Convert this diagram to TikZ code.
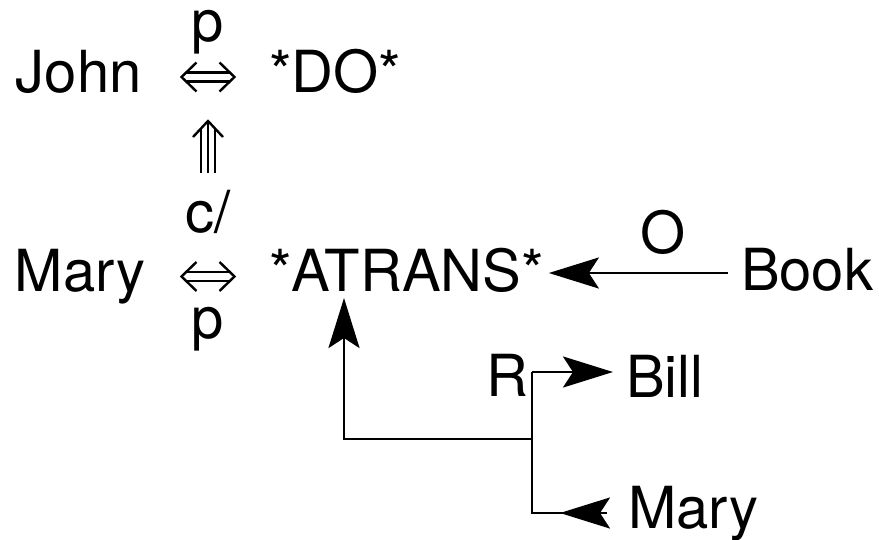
\documentclass[tikz,border=0pt]{standalone}
\usepackage{fontspec}
\setmainfont{TeX Gyre Heros}
\usetikzlibrary{arrows.meta,calc}
\tikzset{
  lbl/.style={inner sep=0pt, outer sep=0pt, anchor=base west, font=\fontsize{58}{62}\selectfont},
  ln/.style={line width=2.9pt, line join=miter},
  arr/.style={ln, -{Stealth[length=50pt,width=31pt,inset=10pt]}},
  dblline/.style={line width=2.4pt, line join=miter},
  dblarr/.pic={
    \draw[dblline] (-22,-4.5) -- (22,-4.5) (-22,4.5) -- (22,4.5);
    \draw[dblline] (-11.5,-14.5) -- (-26.5,0) -- (-11.5,14.5);
    \draw[dblline] (11.5,-14.5) -- (26.5,0) -- (11.5,14.5);
  },
}
\begin{document}
\begin{tikzpicture}[x=1pt,y=-1pt]
\useasboundingbox (0,0) rectangle (879,539);
% texts
\node[lbl] (john) at (16,92) {John};
\node[lbl] (do) at (269,92) {*DO*};
\node[lbl] (ptop) at (191,41) {p};
\node[lbl] (c) at (185,232) {c/};
\node[lbl] (mary) at (15,291) {Mary};
\node[lbl] (atrans) at (269,291) {*ATRANS*};
\node[lbl] (pbot) at (191,338) {p};
\node[lbl] (book) at (741,290) {Book};
\node[lbl] (o) at (640,253) {O};
\node[lbl] (r) at (486,396) {R};
\node[lbl] (bill) at (626,397) {Bill};
\node[lbl] (mary2) at (628,528) {Mary};
% two-way links
\coordinate (dtop) at (208,77);
\coordinate (dbot) at (208,276.5);
\pic at (dtop) {dblarr};
\pic at (dbot) {dblarr};
% causal triple arrow
\coordinate (cb) at (208,173);
\coordinate (ct) at (208,121);
\draw[dblline] ($(cb)+(-7,0)$) -- ($(ct)+(-7,8)$)
               (cb) -- ($(ct)+(0,2)$)
               ($(cb)+(7,0)$) -- ($(ct)+(7,8)$);
\draw[dblline] ($(ct)+(-15,16)$) -- (ct) -- ($(ct)+(15,16)$);
% object arrow
\draw[arr] ($(book.base west)+(-13,-17)$) -- ($(atrans.base east)+(5,-18)$);
% recipient bracket
\coordinate (rtop) at (532,372);
\coordinate (jn) at (532,439);
\coordinate (rbot) at (532,513);
\coordinate (bend) at (344,439);
\draw[ln] (rtop) -- (rbot) -- ($(mary2.base west)+(-21,-15)$);
\draw[arr] (rtop) -- ($(bill.base west)+(-13,-25)$);
\draw[arr] ($(mary2.base west)+(-21,-15)$) -- ($(mary2.base west)+(-68,-15)$);
\draw[arr] (jn) -- (bend) -- ($(atrans.base west)+(75,7)$);
\end{tikzpicture}
\end{document}
